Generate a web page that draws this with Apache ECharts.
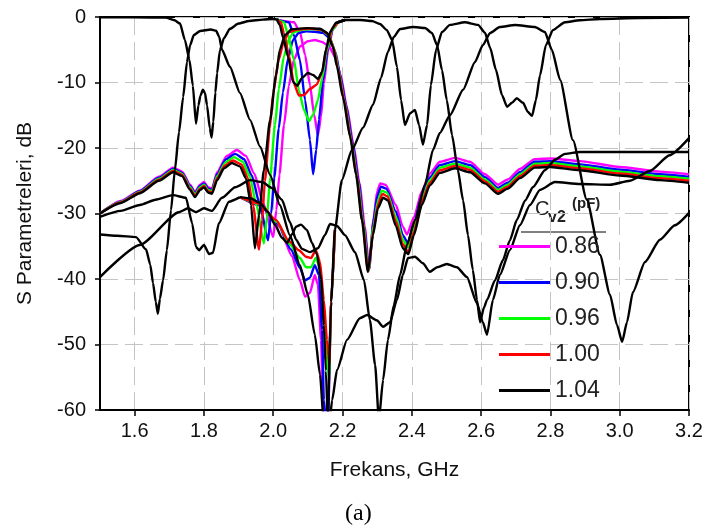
<!DOCTYPE html>
<html>
<head>
<meta charset="utf-8">
<script src="https://cdn.jsdelivr.net/npm/echarts@6.0.0/dist/echarts.min.js"></script>
<style>
  html, body { margin: 0; padding: 0; background: #fff; }
  #chart { width: 709px; height: 532px; }
</style>
</head>
<body>
<div id="chart"></div>
<script>
// Varactor values (pF) and their trace colours
const capValues = ['0.86', '0.90', '0.96', '1.00', '1.04'];
const capColors = ['#ff00ff', '#0000ff', '#00ff00', '#ff0000', '#000000'];
const xTicks = [1.6, 1.8, 2.0, 2.2, 2.4, 2.6, 2.8, 3.0, 3.2];

// ---- Common-port reflection, parts that do not depend on Cv2 ----
const s11Lower = [[1.5,-0.05],[1.6,-0.05],[1.69,-0.1],[1.715,-0.5],[1.731,-1.0],[1.745,-3.5],[1.758,-6.5],[1.768,-10.5],[1.777,-16.3],[1.784,-13.5],[1.79,-12.0],[1.797,-11.1],[1.803,-11.6],[1.809,-13.5],[1.817,-17.0],[1.822,-18.4],[1.827,-16.0],[1.833,-11.5],[1.838,-8.6],[1.846,-5.1],[1.858,-3.2],[1.875,-1.8],[1.9,-1.0],[1.93,-0.6],[1.97,-0.4],[2.0,-0.3],[2.015,-0.4]];
const s11Upper = [[2.181,-0.9],[2.207,-0.46],[2.25,-0.46],[2.285,-0.61],[2.308,-1.07],[2.328,-2.0],[2.343,-3.5],[2.357,-7.6],[2.369,-12.7],[2.38,-16.5],[2.395,-14.7],[2.409,-14.2],[2.421,-16.5],[2.432,-19.5],[2.444,-16.5],[2.455,-10.4],[2.47,-5.0],[2.487,-2.3],[2.51,-1.2],[2.553,-0.8],[2.591,-1.2],[2.611,-2.4],[2.626,-4.7],[2.643,-8.1],[2.66,-11.9],[2.675,-13.7],[2.689,-13.1],[2.703,-12.4],[2.721,-13.1],[2.735,-14.5],[2.747,-15.1],[2.758,-12.7],[2.77,-8.9],[2.787,-4.3],[2.807,-2.0],[2.842,-0.8],[2.885,-0.5],[2.943,-0.3],[3.058,-0.15],[3.2,-0.1]];

// ---- Common-port reflection inside the tunable band, one per Cv2 ----
const s11Band_086 = [[2.011,-0.4],[2.06,-0.8],[2.077,-2.3],[2.092,-5.8],[2.106,-10.4],[2.118,-14.9],[2.129,-18.0],[2.138,-15.2],[2.146,-10.2],[2.158,-5.2],[2.172,-1.9],[2.19,-0.7],[2.207,-0.46]];
const s11Band_090 = [[2.011,-0.4],[2.045,-0.8],[2.06,-2.8],[2.077,-6.6],[2.092,-12.7],[2.106,-18.8],[2.115,-24.0],[2.124,-20.3],[2.132,-15.7],[2.144,-9.6],[2.158,-4.7],[2.172,-1.7],[2.19,-0.7],[2.207,-0.46]];
const s11Band_096 = [[2.011,-0.4],[2.031,-0.8],[2.042,-2.6],[2.06,-6.6],[2.074,-11.2],[2.089,-14.2],[2.103,-15.9],[2.115,-14.9],[2.129,-12.7],[2.141,-9.4],[2.155,-5.0],[2.17,-2.0],[2.19,-0.7],[2.207,-0.46]];
const s11Band_100 = [[2.011,-0.4],[2.022,-0.8],[2.031,-2.5],[2.045,-5.8],[2.06,-10.2],[2.074,-12.0],[2.089,-11.9],[2.106,-11.0],[2.126,-10.3],[2.141,-8.4],[2.155,-4.5],[2.17,-1.7],[2.19,-0.7],[2.207,-0.46]];
const s11Band_104 = [[2.011,-0.46],[2.019,-1.2],[2.028,-3.05],[2.043,-6.1],[2.057,-9.9],[2.069,-10.5],[2.083,-9.3],[2.1,-8.55],[2.115,-8.85],[2.129,-9.47],[2.141,-8.4],[2.152,-5.0],[2.164,-2.3],[2.181,-0.9],[2.207,-0.46]];

// ---- Tunable channel transmission, one per Cv2 ----
const ch3_086 = [[1.5,-30.0],[1.56,-28.1],[1.615,-26.5],[1.67,-24.4],[1.711,-23.0],[1.737,-23.6],[1.76,-25.6],[1.774,-26.7],[1.789,-25.6],[1.8,-25.2],[1.812,-26.0],[1.823,-26.2],[1.838,-23.7],[1.866,-21.2],[1.895,-20.3],[1.921,-21.2],[1.945,-23.9],[1.972,-28.5],[2.0,-33.6],[2.009,-29.5],[2.018,-24.0],[2.031,-16.5],[2.045,-10.5],[2.06,-6.5],[2.077,-4.5],[2.1,-3.7],[2.12,-3.5],[2.14,-3.8],[2.16,-4.4],[2.18,-6.2],[2.195,-9.0],[2.212,-13.6],[2.232,-19.6],[2.249,-25.4],[2.264,-32.0],[2.277,-38.5],[2.29,-30.6],[2.3,-26.6],[2.309,-25.4],[2.324,-25.6],[2.354,-28.7],[2.374,-32.0],[2.386,-33.2],[2.406,-30.6],[2.429,-26.6],[2.452,-23.9],[2.481,-22.1],[2.525,-21.5],[2.568,-22.1],[2.611,-24.0],[2.649,-25.6],[2.677,-24.8],[2.712,-23.2],[2.755,-21.7],[2.8,-21.6],[2.885,-22.0],[3.0,-22.9],[3.116,-23.6],[3.2,-24.0]];
const ch3_090 = [[1.5,-30.0],[1.56,-28.2],[1.615,-26.6],[1.67,-24.55],[1.711,-23.2],[1.737,-23.8],[1.76,-25.8],[1.774,-26.9],[1.789,-25.8],[1.8,-25.4],[1.812,-26.2],[1.823,-26.4],[1.838,-24.0],[1.864,-21.7],[1.89,-20.9],[1.916,-21.7],[1.938,-24.2],[1.962,-28.8],[1.985,-34.1],[1.994,-30.0],[2.003,-24.5],[2.016,-17.0],[2.028,-11.5],[2.042,-6.5],[2.057,-3.5],[2.074,-2.4],[2.095,-2.2],[2.12,-2.25],[2.143,-2.4],[2.163,-3.2],[2.18,-5.4],[2.192,-8.6],[2.209,-13.2],[2.229,-19.2],[2.246,-25.0],[2.262,-31.9],[2.276,-38.7],[2.289,-31.3],[2.3,-27.4],[2.311,-25.9],[2.326,-26.2],[2.354,-29.7],[2.374,-33.3],[2.388,-34.5],[2.406,-31.6],[2.429,-27.3],[2.452,-24.5],[2.481,-22.6],[2.525,-22.0],[2.568,-22.6],[2.611,-24.45],[2.649,-26.1],[2.677,-25.3],[2.712,-23.7],[2.755,-22.1],[2.8,-22.0],[2.885,-22.5],[3.0,-23.3],[3.116,-24.0],[3.2,-24.4]];
const ch3_096 = [[1.5,-30.0],[1.56,-28.25],[1.615,-26.7],[1.67,-24.7],[1.711,-23.35],[1.737,-23.95],[1.76,-26.0],[1.774,-27.1],[1.789,-26.0],[1.8,-25.6],[1.812,-26.4],[1.823,-26.6],[1.838,-24.3],[1.862,-22.2],[1.887,-21.4],[1.912,-22.1],[1.932,-24.3],[1.952,-28.8],[1.973,-34.6],[1.982,-30.5],[1.991,-24.5],[2.005,-16.5],[2.016,-11.0],[2.031,-6.0],[2.045,-3.4],[2.06,-2.3],[2.085,-1.9],[2.115,-1.85],[2.14,-2.0],[2.16,-2.8],[2.177,-5.0],[2.189,-8.3],[2.206,-12.9],[2.226,-18.9],[2.243,-24.7],[2.26,-31.6],[2.275,-38.8],[2.289,-32.0],[2.302,-28.1],[2.313,-26.5],[2.328,-26.8],[2.354,-30.5],[2.374,-34.0],[2.389,-35.2],[2.406,-32.2],[2.429,-27.8],[2.452,-24.9],[2.481,-23.0],[2.525,-22.4],[2.568,-23.0],[2.611,-24.8],[2.649,-26.4],[2.677,-25.6],[2.712,-24.0],[2.755,-22.4],[2.8,-22.3],[2.885,-22.8],[3.0,-23.6],[3.116,-24.3],[3.2,-24.7]];
const ch3_100 = [[1.5,-30.0],[1.56,-28.3],[1.615,-26.8],[1.67,-24.85],[1.711,-23.5],[1.737,-24.1],[1.76,-26.2],[1.774,-27.3],[1.789,-26.2],[1.8,-25.8],[1.812,-26.6],[1.823,-26.8],[1.838,-24.6],[1.86,-22.7],[1.884,-21.9],[1.908,-22.5],[1.926,-24.5],[1.942,-28.8],[1.959,-35.5],[1.968,-31.0],[1.976,-25.0],[1.99,-17.0],[2.0,-11.5],[2.016,-6.5],[2.03,-3.8],[2.045,-2.3],[2.07,-1.9],[2.105,-1.75],[2.138,-1.9],[2.158,-2.6],[2.175,-4.8],[2.187,-8.0],[2.204,-12.6],[2.224,-18.6],[2.241,-24.4],[2.258,-31.3],[2.274,-38.9],[2.289,-32.6],[2.302,-28.7],[2.315,-27.0],[2.33,-27.4],[2.354,-31.2],[2.374,-34.7],[2.39,-35.9],[2.406,-32.8],[2.429,-28.2],[2.452,-25.3],[2.481,-23.4],[2.525,-22.75],[2.568,-23.35],[2.611,-25.1],[2.649,-26.7],[2.677,-25.9],[2.712,-24.3],[2.755,-22.7],[2.8,-22.6],[2.885,-23.1],[3.0,-23.9],[3.116,-24.6],[3.2,-25.0]];
const ch3_104 = [[1.5,-30.0],[1.56,-28.4],[1.615,-26.9],[1.67,-25.0],[1.711,-23.7],[1.737,-24.3],[1.76,-26.4],[1.774,-27.5],[1.789,-26.4],[1.8,-26.0],[1.812,-26.8],[1.823,-27.0],[1.838,-24.9],[1.858,-23.1],[1.881,-22.3],[1.904,-22.8],[1.921,-24.6],[1.936,-28.7],[1.947,-35.3],[1.959,-30.2],[1.973,-23.4],[1.991,-15.7],[2.008,-8.9],[2.019,-5.0],[2.034,-2.75],[2.054,-1.85],[2.1,-1.7],[2.135,-1.8],[2.155,-2.4],[2.172,-4.5],[2.184,-7.6],[2.201,-12.2],[2.222,-18.3],[2.239,-24.1],[2.256,-31.0],[2.273,-38.9],[2.288,-33.3],[2.302,-29.2],[2.317,-27.6],[2.331,-28.0],[2.354,-31.9],[2.374,-35.3],[2.39,-36.2],[2.406,-33.3],[2.429,-28.7],[2.452,-25.7],[2.481,-23.8],[2.525,-23.1],[2.568,-23.7],[2.611,-25.4],[2.649,-27.0],[2.677,-26.2],[2.712,-24.6],[2.755,-23.0],[2.8,-22.9],[2.885,-23.4],[3.0,-24.2],[3.116,-24.9],[3.2,-25.3]];

// ---- Upper fixed channel: shared skirts plus the Cv2-dependent dip region ----
const ch4Lower = [[1.5,-30.5],[1.56,-29.6],[1.615,-28.7],[1.66,-27.9],[1.711,-27.2],[1.748,-27.6],[1.766,-31.5],[1.777,-35.1],[1.786,-35.6],[1.8,-34.8],[1.815,-36.2],[1.826,-36.0],[1.843,-31.5],[1.872,-28.2],[1.904,-27.5]];
const ch4Dip_086 = [[1.904,-27.5],[1.962,-28.8],[2.017,-32.0],[2.054,-36.5],[2.077,-40.2],[2.092,-42.7],[2.106,-42.1],[2.12,-39.4],[2.129,-40.9],[2.138,-49.3],[2.144,-60.0],[2.149,-62.3],[2.158,-61.5],[2.167,-43.5],[2.178,-32.5]];
const ch4Dip_090 = [[1.904,-27.5],[1.962,-28.7],[2.014,-31.6],[2.051,-35.5],[2.077,-38.3],[2.092,-40.2],[2.106,-39.8],[2.12,-37.9],[2.132,-39.4],[2.141,-47.8],[2.146,-58.5],[2.152,-61.5],[2.158,-61.5],[2.167,-43.5],[2.178,-32.5]];
const ch4Dip_096 = [[1.904,-27.5],[1.962,-28.6],[2.011,-31.3],[2.048,-34.7],[2.077,-36.8],[2.095,-38.2],[2.109,-38.2],[2.123,-36.8],[2.135,-38.3],[2.146,-44.7],[2.155,-51.6],[2.161,-55.4],[2.167,-43.5],[2.178,-32.5]];
const ch4Dip_100 = [[1.904,-27.5],[1.962,-28.5],[2.008,-31.0],[2.045,-34.2],[2.074,-35.6],[2.095,-36.6],[2.109,-36.8],[2.123,-35.6],[2.135,-37.4],[2.146,-43.2],[2.155,-49.3],[2.162,-53.1],[2.167,-43.5],[2.178,-32.5]];
const ch4Dip_104 = [[1.904,-27.5],[1.936,-27.7],[1.962,-28.4],[1.985,-29.8],[2.005,-31.7],[2.025,-33.7],[2.04,-34.5],[2.054,-33.2],[2.066,-32.0],[2.08,-31.7],[2.097,-32.5],[2.112,-34.5],[2.126,-36.2],[2.138,-40.0],[2.146,-47.0],[2.152,-54.0],[2.157,-62.0]];
const ch4Upper = [[2.158,-61.5],[2.167,-43.5],[2.178,-32.5],[2.198,-24.9],[2.227,-20.3],[2.259,-16.9],[2.288,-13.4],[2.311,-9.3],[2.331,-5.3],[2.348,-3.05],[2.366,-1.83],[2.403,-1.53],[2.438,-1.68],[2.458,-2.44],[2.473,-4.3],[2.487,-8.1],[2.501,-12.7],[2.516,-18.0],[2.533,-23.4],[2.548,-28.0],[2.562,-33.3],[2.576,-38.6],[2.588,-43.2],[2.597,-46.6],[2.608,-44.4],[2.617,-43.2],[2.64,-40.2],[2.663,-37.1],[2.683,-34.1],[2.703,-31.0],[2.727,-28.0],[2.75,-25.95],[2.784,-23.4],[2.813,-21.8],[2.842,-20.9],[2.885,-20.6],[2.943,-20.6],[3.2,-20.6]];

// ---- Lower fixed channel (1.8 GHz band) ----
const ch2Path = [[1.5,-33.2],[1.55,-33.4],[1.604,-33.6],[1.633,-35.5],[1.645,-37.8],[1.653,-40.6],[1.661,-43.5],[1.667,-45.3],[1.673,-43.0],[1.682,-40.2],[1.693,-35.6],[1.705,-29.5],[1.716,-23.4],[1.728,-17.6],[1.74,-12.2],[1.751,-6.9],[1.76,-4.3],[1.771,-2.75],[1.789,-2.14],[1.82,-1.9],[1.835,-2.1],[1.844,-3.0],[1.852,-5.0],[1.875,-7.6],[1.904,-11.6],[1.933,-15.7],[1.962,-19.8],[1.991,-24.1],[2.019,-28.7],[2.048,-33.3],[2.077,-37.9],[2.1,-42.4],[2.12,-48.5],[2.135,-54.6],[2.146,-62],[2.162,-62],[2.17,-58.5],[2.184,-53.9],[2.213,-49.3],[2.25,-46.0],[2.271,-45.5],[2.299,-46.3],[2.317,-47.3],[2.337,-46.6],[2.357,-43.2],[2.374,-39.4],[2.389,-36.8],[2.409,-36.6],[2.432,-37.6],[2.452,-38.9],[2.473,-38.2],[2.501,-37.7],[2.53,-38.2],[2.559,-39.7],[2.588,-43.7],[2.605,-46.6],[2.617,-48.5],[2.634,-43.2],[2.654,-39.4],[2.683,-35.6],[2.712,-31.8],[2.741,-28.7],[2.77,-26.4],[2.813,-25.2],[2.885,-25.5],[2.972,-25.6],[3.03,-25.0],[3.087,-23.5],[3.144,-21.1],[3.2,-18.5]];

// ---- Highest fixed channel (2.7 GHz band) ----
const ch5Path = [[1.5,-39.7],[1.615,-34.8],[1.728,-29.8],[1.754,-29.2],[1.777,-29.8],[1.8,-29.2],[1.823,-29.6],[1.852,-27.6],[1.89,-26.0],[1.933,-24.9],[1.968,-25.2],[1.996,-26.1],[2.025,-27.9],[2.048,-31.3],[2.066,-34.0],[2.083,-35.4],[2.106,-35.9],[2.129,-35.3],[2.149,-33.3],[2.164,-31.6],[2.184,-31.9],[2.207,-33.3],[2.236,-35.9],[2.262,-40.2],[2.279,-46.3],[2.294,-53.1],[2.305,-61.5],[2.317,-55.4],[2.331,-49.3],[2.348,-44.0],[2.366,-39.4],[2.386,-34.8],[2.409,-31.0],[2.438,-25.6],[2.461,-20.3],[2.481,-17.7],[2.51,-15.0],[2.548,-11.1],[2.582,-6.9],[2.605,-4.3],[2.626,-2.44],[2.654,-1.53],[2.698,-1.22],[2.755,-1.53],[2.784,-2.3],[2.804,-5.0],[2.828,-9.6],[2.865,-18.8],[2.905,-27.9],[2.943,-36.3],[2.972,-42.4],[2.992,-47.0],[3.007,-49.6],[3.021,-46.6],[3.038,-42.0],[3.073,-37.4],[3.116,-34.0],[3.159,-31.8],[3.2,-29.9]];

// Curves that change with Cv2, grouped per capacitor value
const tunedCurves = [
  [ch3_086, s11Band_086, ch4Dip_086],
  [ch3_090, s11Band_090, ch4Dip_090],
  [ch3_096, s11Band_096, ch4Dip_096],
  [ch3_100, s11Band_100, ch4Dip_100],
  [ch3_104, s11Band_104, ch4Dip_104]
];
const fixedCurves = [s11Lower, s11Upper, ch4Lower, ch4Upper, ch2Path, ch5Path];

const FONT = '"Liberation Sans", Arial, sans-serif';

function lineSeries(name, color, data) {
  return {
    type: 'line',
    name: name,
    data: data,
    symbol: 'none',
    smooth: 0.2,
    smoothMonotone: 'x',
    clip: true,
    silent: true,
    animation: false,
    lineStyle: { color: color, width: 2.4 },
    itemStyle: { color: color }
  };
}

const series = [];
tunedCurves.forEach((group, i) => {
  group.forEach(d => series.push(lineSeries(capValues[i], capColors[i], d)));
});
fixedCurves.forEach(d => series.push(lineSeries('', '#000000', d)));

const chart = echarts.init(document.getElementById('chart'), null, { renderer: 'canvas' });
chart.setOption({
  backgroundColor: '#ffffff',
  animation: false,
  grid: {
    left: 100, right: 20, top: 17, bottom: 122,
    show: true, borderColor: '#000', borderWidth: 2, backgroundColor: 'transparent'
  },
  xAxis: {
    type: 'value', min: 1.5, max: 3.2,
    name: 'Frekans, GHz', nameLocation: 'middle', nameGap: 50,
    nameTextStyle: { fontFamily: FONT, fontSize: 21, color: '#111' },
    axisLine: { show: true, onZero: false, lineStyle: { color: '#000', width: 2 } },
    axisTick: { show: true, inside: false, length: 6, customValues: xTicks, lineStyle: { color: '#000', width: 1.5 } },
    axisLabel: { customValues: xTicks, margin: 11, fontFamily: FONT, fontSize: 20, color: '#111',
      formatter: v => v.toFixed(1) },
    splitLine: { show: true, lineStyle: { color: '#c4c4c4', width: 1, type: [18, 7] } }
  },
  yAxis: {
    type: 'value', min: -60, max: 0, interval: 10,
    name: 'S Parametreleri, dB', nameLocation: 'middle', nameGap: 64,
    nameTextStyle: { fontFamily: FONT, fontSize: 21, color: '#111' },
    axisLine: { show: true, onZero: false, lineStyle: { color: '#000', width: 2 } },
    axisTick: { show: true, inside: false, length: 5, lineStyle: { color: '#000', width: 1.5 } },
    axisLabel: { margin: 14, fontFamily: FONT, fontSize: 20, color: '#111' },
    splitLine: { show: true, lineStyle: { color: '#c4c4c4', width: 1, type: [18, 7] } }
  },
  legend: {
    data: capValues,
    orient: 'vertical',
    left: 494, top: 230,
    itemWidth: 51, itemHeight: 3, itemGap: 13,
    icon: 'rect',
    selectedMode: false,
    textStyle: { fontFamily: FONT, fontSize: 23, color: '#222' }
  },
  graphic: [
    { type: 'text', left: 535, top: 199, style: { text: 'C', font: '20px ' + FONT, fill: '#222' } },
    { type: 'text', left: 548, top: 210, style: { text: 'v2', font: 'bold 16px ' + FONT, fill: '#222' } },
    { type: 'text', left: 572, top: 196, style: { text: '(pF)', font: 'bold 15px ' + FONT, fill: '#222' } },
    { type: 'line', shape: { x1: 521, y1: 232, x2: 606, y2: 232 }, style: { stroke: '#000', lineWidth: 1 } },
    { type: 'text', left: 345, top: 502, style: { text: '(a)', font: '24px "Liberation Serif", "Times New Roman", serif', fill: '#000' } }
  ],
  series: series
});
</script>
</body>
</html>
